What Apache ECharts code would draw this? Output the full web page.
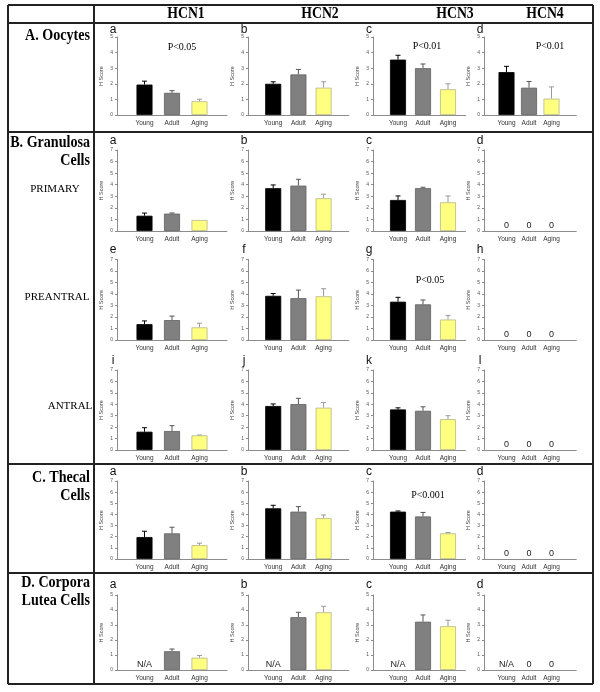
<!DOCTYPE html>
<html><head><meta charset="utf-8">
<script src="https://cdn.jsdelivr.net/npm/echarts@6/dist/echarts.min.js"></script>
<style>html,body{margin:0;padding:0;background:#fff}#c{width:600px;height:692px}</style>
</head><body><div id="c"></div>
<script>
// ---------------- DATA ----------------
const groups = ['Young', 'Adult', 'Aging'];
const genes = ['HCN1', 'HCN2', 'HCN3', 'HCN4'];
const yTicks5 = [0, 1, 2, 3, 4, 5];
const yTicks7 = [0, 1, 2, 3, 4, 5, 6, 7];
// means per gene (HCN1..HCN4) x [Young, Adult, Aging]; null = N/A
const oocyteMean    = [[1.95, 1.42, 0.88], [2.0, 2.6, 1.75], [3.55, 3.0, 1.65], [2.75, 1.75, 1.05]];
const oocyteErr     = [[0.22, 0.14, 0.13], [0.13, 0.32, 0.38], [0.28, 0.27, 0.35], [0.37, 0.40, 0.75]];
const primaryMean   = [[1.32, 1.50, 0.95], [3.70, 3.92, 2.83], [2.68, 3.70, 2.48], [0, 0, 0]];
const primaryErr    = [[0.23, 0.06, 0.0], [0.28, 0.55, 0.35], [0.35, 0.08, 0.55], [0, 0, 0]];
const preantralMean = [[1.38, 1.73, 1.10], [3.84, 3.64, 3.80], [3.33, 3.10, 1.78], [0, 0, 0]];
const preantralErr  = [[0.28, 0.35, 0.36], [0.20, 0.70, 0.66], [0.38, 0.38, 0.36], [0, 0, 0]];
const antralMean    = [[1.60, 1.66, 1.28], [3.85, 4.02, 3.70], [3.55, 3.43, 2.70], [0, 0, 0]];
const antralErr     = [[0.35, 0.47, 0.03], [0.18, 0.50, 0.45], [0.14, 0.35, 0.30], [0, 0, 0]];
const thecalMean    = [[1.97, 2.30, 1.24], [4.55, 4.25, 3.68], [4.25, 3.82, 2.30], [0, 0, 0]];
const thecalErr     = [[0.52, 0.55, 0.18], [0.27, 0.45, 0.27], [0.06, 0.36, 0.08], [0, 0, 0]];
const luteaMean     = [[null, 1.25, 0.82], [null, 3.52, 3.85], [null, 3.22, 2.92], [null, 0, 0]];
const luteaErr      = [[0, 0.15, 0.15], [0, 0.33, 0.40], [0, 0.45, 0.40], [0, 0, 0]];
const rowTitles = [['A. Oocytes'], ['B. Granulosa', 'Cells'], ['C. Thecal', 'Cells'], ['D. Corpora', 'Lutea Cells']];
const subTitles = ['PRIMARY', 'PREANTRAL', 'ANTRAL'];
const pValues = ['P<0.05', 'P<0.01', 'P<0.01', 'P<0.05', 'P<0.001'];

// ---------------- LAYOUT ----------------
const colLeft = [117, 248, 373, 484];
const colUnit = [27.5, 25.2, 25, 22.5];
const colMax  = [4, 4, 3.7, 4.1];
const rowDefs = [
  {mean: oocyteMean, err: oocyteErr, ticks: yTicks5, top: 37, bottom: 115, letters: 'abcd', letterY: 30},
  {mean: primaryMean, err: primaryErr, ticks: yTicks7, top: 150, bottom: 231, letters: 'abcd', letterY: 141},
  {mean: preantralMean, err: preantralErr, ticks: yTicks7, top: 259.5, bottom: 340, letters: 'efgh', letterY: 250},
  {mean: antralMean, err: antralErr, ticks: yTicks7, top: 370, bottom: 450, letters: 'ijkl', letterY: 361},
  {mean: thecalMean, err: thecalErr, ticks: yTicks7, top: 481, bottom: 559, letters: 'abcd', letterY: 472},
  {mean: luteaMean, err: luteaErr, ticks: yTicks5, top: 595, bottom: 670, letters: 'abcd', letterY: 585}
];
const barColors  = ['#000000', '#808080', '#ffff80'];
const barBorders = ['#000000', '#5e5e5e', '#b5b58a'];
const errColors  = ['#000000', '#555555', '#9a9a9a'];
const axisCol = '#8c8c8c';

const grid = [], xAxis = [], yAxis = [], series = [], graphic = [];

rowDefs.forEach((r, ri) => {
  for (let ci = 0; ci < 4; ci++) {
    const gi = grid.length;
    grid.push({left: colLeft[ci], top: r.top, width: colUnit[ci] * colMax[ci], height: r.bottom - r.top});
    xAxis.push({
      type: 'value', gridIndex: gi, min: 0, max: colMax[ci], interval: 1,
      axisLine: {show: true, lineStyle: {color: axisCol, width: 1}},
      axisTick: {show: false}, splitLine: {show: false},
      axisLabel: {fontSize: 6.5, color: '#333', margin: 5, fontFamily: 'Liberation Sans',
        formatter: v => groups[Math.round(v) - 1] && Math.abs(v - Math.round(v)) < 1e-6 ? groups[Math.round(v) - 1] : ''}
    });
    const ticks = r.ticks;
    yAxis.push({
      type: 'value', gridIndex: gi, min: ticks[0], max: ticks[ticks.length - 1], interval: 1,
      name: 'H Score', nameLocation: 'middle', nameGap: 13, nameRotate: 90,
      nameTextStyle: {fontSize: 5.5, color: '#444', fontFamily: 'Liberation Sans'},
      axisLine: {show: true, lineStyle: {color: axisCol, width: 1}},
      axisTick: {show: true, length: 2, lineStyle: {color: axisCol}},
      splitLine: {show: false},
      axisLabel: {fontSize: 5, color: '#555', margin: 4, fontFamily: 'Liberation Sans'}
    });
    const m = r.mean[ci], e = r.err[ci];
    series.push({
      type: 'bar', xAxisIndex: gi, yAxisIndex: gi, barWidth: 16, silent: true, animation: false,
      data: m.map((v, k) => (v == null || v === 0) ? '-' : ({value: [k + 1, v],
        itemStyle: {color: barColors[k], borderColor: barBorders[k], borderWidth: 0.8}}))
    });
    series.push({
      type: 'custom', xAxisIndex: gi, yAxisIndex: gi, silent: true, animation: false,
      data: m.map((v, k) => [k + 1, v == null ? 0 : v, e[k] || 0, k, v == null ? 1 : 0]),
      renderItem: (params, api) => {
        const x = api.value(0), y = api.value(1), er = api.value(2), k = api.value(3), na = api.value(4);
        const children = [];
        if (er > 0) {
          const p0 = api.coord([x, y]), p1 = api.coord([x, y + er]);
          children.push({type: 'line', shape: {x1: p0[0], y1: p0[1], x2: p1[0], y2: p1[1]}, style: {stroke: errColors[k], lineWidth: 1}});
          children.push({type: 'line', shape: {x1: p1[0] - 2.5, y1: p1[1], x2: p1[0] + 2.5, y2: p1[1]}, style: {stroke: errColors[k], lineWidth: 1}});
        }
        if (na || y === 0) {
          const p = api.coord([x, 0]);
          children.push({type: 'text', x: p[0], y: p[1] - 1,
            style: {text: na ? 'N/A' : '0', fill: '#222', font: '9px "Liberation Sans"', align: 'center', verticalAlign: 'bottom', textAlign: 'center', textVerticalAlign: 'bottom'}});
        }
        return {type: 'group', children};
      }
    });
    graphic.push({type: 'text', x: colLeft[ci] - 4, y: r.letterY,
      style: {text: r.letters[ci], font: '12px "Liberation Sans"', fill: '#111', align: 'center', verticalAlign: 'middle', textAlign: 'center', textVerticalAlign: 'middle'}});
  }
});

// table lines
const tL = 8, tR = 593, tT = 5, tB = 684, divX = 94;
const hLines = [tT, 23, 132, 464, 573, tB];
hLines.forEach(y => graphic.push({type: 'line', shape: {x1: tL, y1: y, x2: tR, y2: y}, style: {stroke: '#222', lineWidth: 2}}));
[tL, divX, tR].forEach(x => graphic.push({type: 'line', shape: {x1: x, y1: tT, x2: x, y2: tB}, style: {stroke: '#222', lineWidth: 2}}));

function txt(t, x, y, font, align, sx) {
  graphic.push({type: 'text', x, y, scaleX: sx || 1, style: {text: t, font, fill: '#000', align: align || 'center', verticalAlign: 'middle', textAlign: align || 'center', textVerticalAlign: 'middle'}});
}
const headX = [186, 320, 455, 545];
genes.forEach((g, i) => txt(g, headX[i], 14, 'bold 16px "Liberation Serif"', 'center', 0.86));
const titleY = [[36], [143, 161], [478, 496], [583, 601]];
rowTitles.forEach((lines, i) => lines.forEach((t, j) => txt(t, divX - 4, titleY[i][j], 'bold 16px "Liberation Serif"', 'right', 0.88)));
const subPos = [[55, 189], [57, 297], [70, 406]];
subTitles.forEach((t, i) => txt(t, subPos[i][0], subPos[i][1], '11px "Liberation Serif"'));
const pPos = [[182, 47], [427, 46], [550, 46], [430, 280], [428, 495]];
pValues.forEach((t, i) => txt(t, pPos[i][0], pPos[i][1], '10px "Liberation Serif"'));

const chart = echarts.init(document.getElementById('c'));
chart.setOption({animation: false, backgroundColor: '#fff', textStyle: {fontFamily: 'Liberation Sans'},
  grid, xAxis, yAxis, series, graphic});
</script></body></html>
